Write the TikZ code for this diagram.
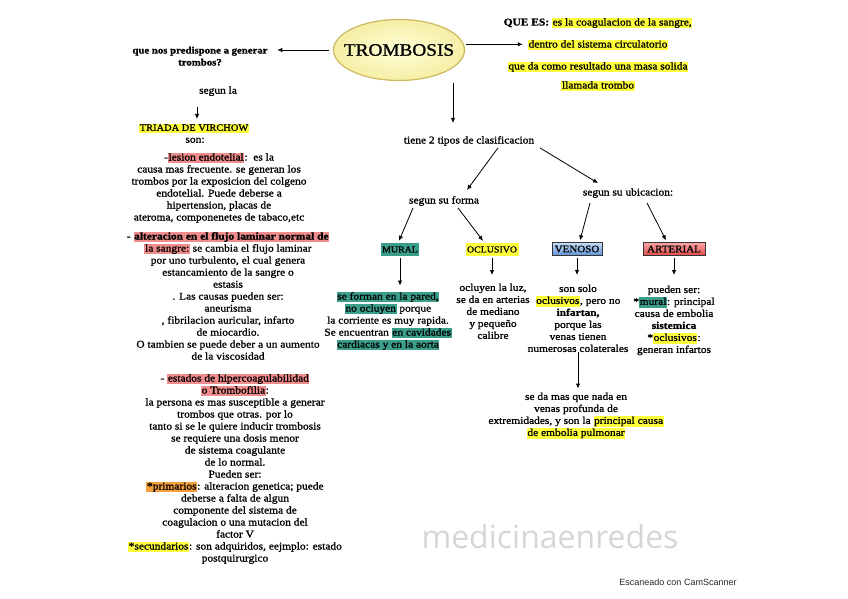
\documentclass[tikz,border=0pt]{standalone}
\usepackage{fontspec}
\setmainfont{Liberation Serif}[FakeStretch=1.1,FakeBold=1.2]
\newfontfamily\wmfont{Open Sans}
\newfontfamily\scanfont{Liberation Sans}
\usetikzlibrary{positioning,shapes.geometric,arrows.meta}
\definecolor{hlyellow}{RGB}{255,255,60}
\definecolor{hlpink}{RGB}{240,140,140}
\definecolor{hlorange}{RGB}{245,160,60}
\definecolor{hlteal}{RGB}{58,158,138}
\definecolor{ellin}{RGB}{255,255,215}
\definecolor{ellout}{RGB}{245,238,165}
\definecolor{elldraw}{RGB}{205,185,95}
\definecolor{venotop}{RGB}{200,222,248}
\definecolor{venobot}{RGB}{95,145,215}
\definecolor{arttop}{RGB}{250,165,165}
\definecolor{artbot}{RGB}{228,75,75}
\newcommand{\hili}[2]{{\setlength{\fboxsep}{0.6pt}\colorbox{#1}{\vphantom{Ag}#2}}}
\newcommand{\txtsize}{\fontsize{10.4}{12}\selectfont}

\begin{document}
\begin{tikzpicture}[x=1pt,y=1pt,
  blk/.style={align=center,anchor=north,font=\txtsize,execute at begin node={\rule{0pt}{8pt}}},
  lbl/.style={anchor=base,font=\txtsize},
  arr/.style={draw=black,line width=0.8pt,-{Latex[length=5pt,width=4.5pt]}},
  tipo/.style={font=\fontsize{9}{10}\selectfont,minimum height=13pt,inner xsep=1pt}]
\tikzstyle{every node}+=[inner sep=0pt]
\useasboundingbox (0,0) rectangle (848,-599);
% title
\node [ellipse, shade, draw=elldraw, line width=1.2pt, inner color=ellin, outer color=ellout,
  inner xsep=-9pt, minimum width=131pt, minimum height=61pt, font=\fontsize{17.5}{19}\selectfont] (trombosis) at (399,-50) {TROMBOSIS};
% left column
\node [blk, font=\bfseries\fontsize{9.8}{12}\selectfont] (predis) at (200,-46.5) {que nos predispone a generar\\trombos?};
\node [blk] (segunla) at (218,-85.5) {segun la};
\node [blk, font=\fontsize{9.5}{12}\selectfont] (triada) at (194,-122.5) {\hili{hlyellow}{TRIADA DE VIRCHOW}};
\node [blk] (son) at (195,-134.5) {son:};
\node [blk] (lesion) at (219,-152.5) {-\hili{hlpink}{lesion endotelial}:\ \ es la\\
  causa mas frecuente. se generan los\\
  trombos por la exposicion del colgeno\\
  endotelial. Puede deberse a\\
  hipertension, placas de\\
  ateroma, componenetes de tabaco,etc};
\node [blk] (flujo) at (228,-231.5) {- \hili{hlpink}{\textbf{alteracion en el flujo laminar normal de}}\\
  \hili{hlpink}{la sangre:} se cambia el flujo laminar\\
  por uno turbulento, el cual genera\\
  estancamiento de la sangre o\\
  estasis\\
  . Las causas pueden ser:\\
  aneurisma\\
  , fibrilacion auricular, infarto\\
  de miocardio.\\
  O tambien se puede deber a un aumento\\
  de la viscosidad};
\node [blk] (hiper) at (235,-373.5) {- \hili{hlpink}{estados de hipercoagulabilidad}\\
  \hili{hlpink}{o Trombofilia}:\\
  la persona es mas susceptible a generar\\
  trombos que otras. por lo\\
  tanto si se le quiere inducir trombosis\\
  se requiere una dosis menor\\
  de sistema coagulante\\
  de lo normal.\\
  Pueden ser:\\
  \hili{hlorange}{*primarios}: alteracion genetica; puede\\
  deberse a falta de algun\\
  componente del sistema de\\
  coagulacion o una mutacion del\\
  factor V\\
  \hili{hlyellow}{*secundarios}: son adquiridos, eejmplo: estado\\
  postquirurgico};
% que es
\node [lbl] (quees1) at (598,-25.5) {\textbf{QUE ES:} \hili{hlyellow}{es la coagulacion de la sangre,}};
\node [lbl] (quees2) at (598,-47.5) {\hili{hlyellow}{dentro del sistema circulatorio}};
\node [lbl] (quees3) at (598,-69.5) {\hili{hlyellow}{que da como resultado una masa solida}};
\node [lbl] (quees4) at (598,-88.5) {\hili{hlyellow}{llamada trombo}};
% clasificacion
\node [lbl] (tiene) at (469,-143.5) {tiene 2 tipos de clasificacion};
\node [lbl] (forma) at (444,-203.5) {segun su forma};
\node [lbl] (ubicacion) at (628,-195.5) {segun su ubicacion:};
\node [tipo, fill=hlteal, minimum width=37pt] (mural) at (400,-249.5) {MURAL};
\node [tipo, fill=hlyellow, minimum width=53pt] (oclusivo) at (492,-249.5) {OCLUSIVO};
\node [tipo, draw=black!80, top color=venotop, bottom color=venobot, minimum width=50pt,
  font=\fontsize{10}{11}\selectfont] (venoso) at (577,-249) {VENOSO};
\node [tipo, draw=black!80, top color=arttop, bottom color=artbot, minimum width=62pt,
  font=\fontsize{10}{11}\selectfont] (arterial) at (674,-249) {ARTERIAL};
\node [blk] (muraltext) at (388,-291.5) {\hili{hlteal}{se forman en la pared,}\\
  \hili{hlteal}{no ocluyen} porque\\
  la corriente es muy rapida.\\
  Se encuentran \hili{hlteal}{en cavidades}\\
  \hili{hlteal}{cardiacas y en la aorta}};
\node [blk] (oclusivotext) at (493,-283.5) {ocluyen la luz,\\se da en arterias\\de mediano\\y pequeño\\calibre};
\node [blk] (venosotext) at (578,-284.5) {son solo\\
  \hili{hlyellow}{oclusivos}, pero no\\
  \textbf{infartan,}\\
  porque las\\
  venas tienen\\
  numerosas colaterales};
\node [blk] (arterialtext) at (674,-285.5) {pueden ser:\\
  *\hili{hlteal}{mural}: principal\\
  causa de embolia\\
  \textbf{sistemica}\\
  *\hili{hlyellow}{oclusivos}:\\
  generan infartos};
\node [blk] (bottom) at (576,-392.5) {se da mas que nada en\\
  venas profunda de\\
  extremidades, y son la \hili{hlyellow}{principal causa}\\
  \hili{hlyellow}{de embolia pulmonar}};
% scan marks
\node [font=\wmfont\fontsize{32}{34}\selectfont, text=black!16] (watermark) at (550,-536) {medicinaenredes};
\node [font=\scanfont\fontsize{9}{10}\selectfont, text=black!85] (scanner) at (678,-582) {Escaneado con CamScanner};
% connectors
\coordinate (trdown) at (453,-83);
\draw [arr, shorten <=4pt, shorten >=9.5pt] (trombosis.west) -- (trombosis.west -| predis.east);
\draw [arr, shorten <=2pt, shorten >=5pt] (trombosis.5) -- (trombosis.5 -| quees2.west);
\draw [arr, shorten >=13pt] (trdown) -- (trdown |- tiene.north);
\draw [arr] ([xshift=-21pt,yshift=-11pt]segunla.south) -- ([xshift=3pt,yshift=3.5pt]triada.north);
\draw [arr] ([xshift=29pt,yshift=-2pt]tiene.south) -- ([xshift=23pt,yshift=6pt]forma.north);
\draw [arr] ([xshift=71pt,yshift=-2pt]tiene.south) -- ([xshift=-30pt,yshift=5pt]ubicacion.north);
\draw [arr] ([xshift=-31pt,yshift=-2pt]forma.south) -- ([xshift=-1pt,yshift=2pt]mural.north);
\draw [arr] ([xshift=14pt,yshift=-2pt]forma.south) -- ([xshift=-9pt,yshift=2pt]oclusivo.north);
\draw [arr] ([xshift=-38pt,yshift=-5pt]ubicacion.south) -- ([xshift=3pt,yshift=2pt]venoso.north);
\draw [arr] ([xshift=19pt,yshift=-5pt]ubicacion.south) -- ([xshift=-8pt,yshift=2pt]arterial.north);
\draw [arr, shorten <=2pt, shorten >=6pt] (mural.south) -- (mural.south |- muraltext.north);
\draw [arr, shorten <=2pt, shorten >=8.5pt] (oclusivo.south) -- (oclusivo.south |- oclusivotext.north);
\draw [arr, shorten <=2pt, shorten >=9.5pt] (venoso.south) -- (venoso.south |- venosotext.north);
\draw [arr, shorten <=2pt, shorten >=10.5pt] (arterial.south) -- (arterial.south |- arterialtext.north);
\draw [arr, shorten >=4pt] (venosotext.south) -- (venosotext.south |- bottom.north);
\end{tikzpicture}
\end{document}
